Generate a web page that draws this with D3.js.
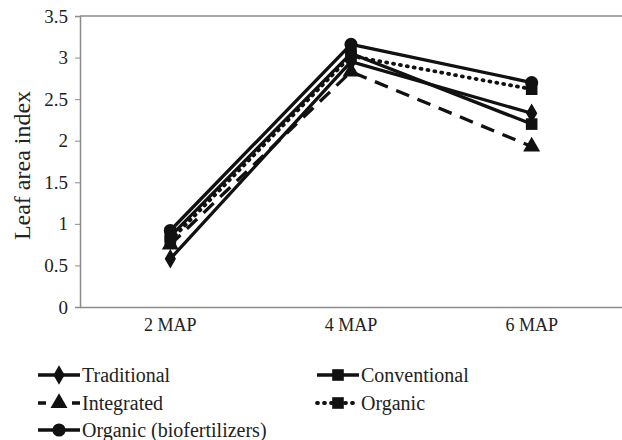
<!DOCTYPE html>
<html>
<head>
<meta charset="utf-8">
<script src="https://cdn.jsdelivr.net/npm/d3@7"></script>
<style>
  body { margin: 0; background: #fff; }
  svg text { font-family: "Liberation Serif", "DejaVu Serif", serif; fill: #222; }
</style>
</head>
<body>
<svg id="chart" width="622" height="440"></svg>
<script>
// categories and series values
const categories = ['2 MAP', '4 MAP', '6 MAP'];
const traditional = [0.58, 2.95, 2.33];
const conventional = [0.85, 3.05, 2.2];
const integrated = [0.75, 2.83, 1.93];
const organic = [0.8, 3.02, 2.62];
const organicBio = [0.92, 3.16, 2.7];
const yTicks = [0, 0.5, 1, 1.5, 2, 2.5, 3, 3.5];

const series = [
  {name: 'Traditional', values: traditional, symbol: d3.symbolDiamond, dash: null},
  {name: 'Conventional', values: conventional, symbol: d3.symbolSquare, dash: null},
  {name: 'Integrated', values: integrated, symbol: d3.symbolTriangle, dash: '14,9'},
  {name: 'Organic', values: organic, symbol: d3.symbolSquare, dash: '1,6'},
  {name: 'Organic (biofertilizers)', values: organicBio, symbol: d3.symbolCircle, dash: null}
];

const svg = d3.select('#chart');
const margin = {left: 80, right: 0, top: 16, bottom: 133};
const width = 622, height = 440;
const serif = '"Liberation Serif", "DejaVu Serif", serif';

/* scales */
const x = d3.scaleBand().domain(categories).range([margin.left, width - margin.right]);
const y = d3.scaleLinear().domain([0, 3.5]).range([height - margin.bottom, margin.top]);

/* frame line at the top */
svg.append('line')
  .attr('x1', margin.left).attr('x2', width)
  .attr('y1', y(3.5)).attr('y2', y(3.5))
  .attr('stroke', '#8c8c8c').attr('stroke-width', 1.5);

/* y axis */
const yAxis = d3.axisLeft(y).tickValues(yTicks).tickSize(5).tickPadding(7).tickFormat(d3.format('~g'));
const gy = svg.append('g').attr('transform', `translate(${margin.left},0)`).call(yAxis);
gy.attr('font-family', serif).attr('font-size', 19);
gy.select('.domain').attr('stroke', '#8c8c8c').attr('stroke-width', 1.5);
gy.selectAll('.tick line').attr('stroke', '#8c8c8c');
gy.selectAll('text').attr('fill', '#222').style('font-family', serif);

/* x axis */
const xAxis = d3.axisBottom(x).tickSize(0).tickPadding(11);
const gx = svg.append('g').attr('transform', `translate(0,${y(0)})`).call(xAxis);
gx.attr('font-family', serif).attr('font-size', 18);
gx.select('.domain').attr('stroke', '#8c8c8c').attr('stroke-width', 1.5);
gx.selectAll('text').attr('fill', '#222').style('font-family', serif);

/* y title */
svg.append('text')
  .attr('transform', `translate(30,${(y(0) + y(3.5)) / 2 + 4}) rotate(-90)`)
  .attr('text-anchor', 'middle')
  .style('font-size', '24px')
  .style('font-family', serif)
  .attr('fill', '#444')
  .text('Leaf area index');

const line = d3.line()
  .x((d, i) => x(categories[i]) + x.bandwidth() / 2)
  .y(d => y(d));

const symbolSize = s => s === d3.symbolTriangle ? 125 : s === d3.symbolDiamond ? 110 : 135;

series.forEach(s => {
  svg.append('path')
    .attr('d', line(s.values))
    .attr('fill', 'none')
    .attr('stroke', '#111')
    .attr('stroke-width', s.dash === '1,6' ? 3.8 : 3.3)
    .attr('stroke-linecap', s.dash === '1,6' ? 'round' : 'butt')
    .attr('stroke-dasharray', s.dash);
  svg.selectAll(null).data(s.values).enter().append('path')
    .attr('d', d3.symbol().type(s.symbol).size(symbolSize(s.symbol)))
    .attr('transform', (d, i) => `translate(${x(categories[i]) + x.bandwidth() / 2},${y(d)})`)
    .attr('fill', '#111');
});

/* legend */
const legendPos = [
  {dx: 18, dy: 375},
  {dx: 297, dy: 375},
  {dx: 18, dy: 403},
  {dx: 297, dy: 403},
  {dx: 18, dy: 430}
];
series.forEach((s, i) => {
  const g = svg.append('g').attr('transform', `translate(${legendPos[i].dx},${legendPos[i].dy})`);
  g.append('line')
    .attr('x1', 20).attr('x2', 62).attr('y1', 0).attr('y2', 0)
    .attr('stroke', '#111')
    .attr('stroke-width', s.dash === '1,6' ? 3.8 : 3.3)
    .attr('stroke-linecap', s.dash === '1,6' ? 'round' : 'butt')
    .attr('stroke-dasharray', s.dash === '14,9' ? '8,9' : s.dash);
  g.append('path')
    .attr('d', d3.symbol().type(s.symbol).size(symbolSize(s.symbol)))
    .attr('transform', 'translate(41,0)')
    .attr('fill', '#111');
  g.append('text')
    .attr('x', 64).attr('y', 0).attr('dy', '0.33em')
    .style('font-size', '20px')
    .style('font-family', serif)
    .text(s.name);
});
</script>
</body>
</html>
